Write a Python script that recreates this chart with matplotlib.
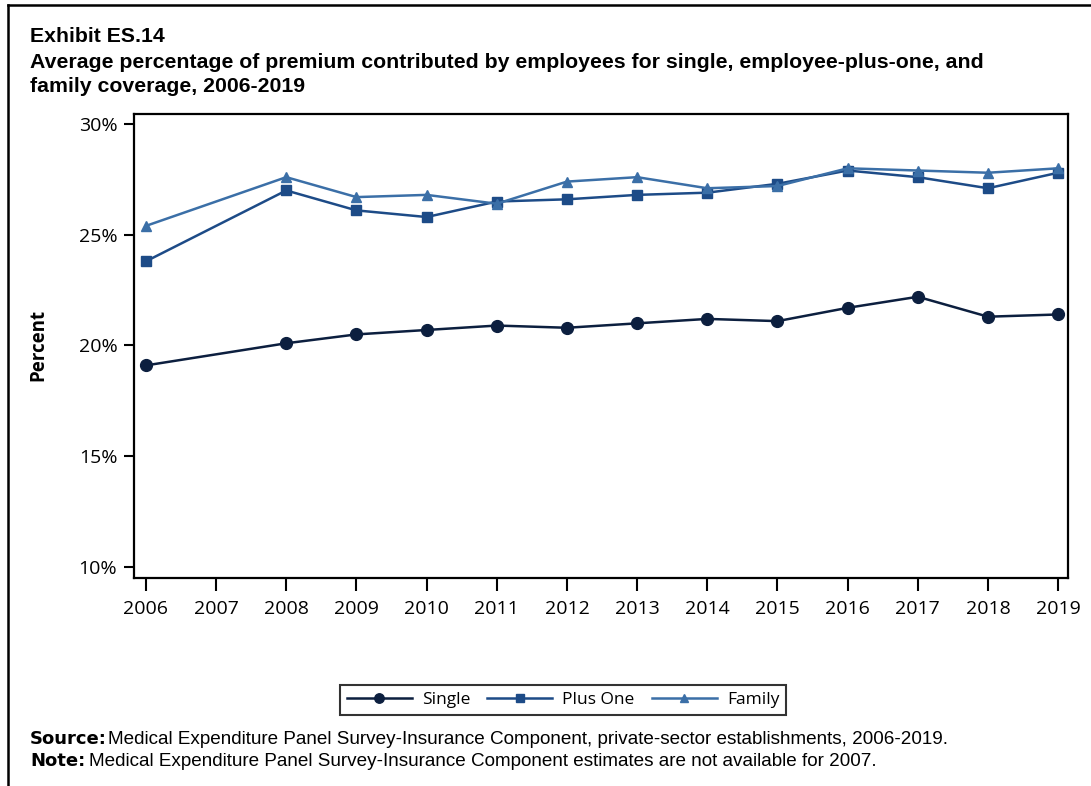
import matplotlib.pyplot as plt
from matplotlib.lines import Line2D

# Data read from the exhibit (percent)
years = [2006, 2008, 2009, 2010, 2011, 2012, 2013, 2014, 2015, 2016, 2017, 2018, 2019]
single = [19.1, 20.1, 20.5, 20.7, 20.9, 20.8, 21.0, 21.2, 21.1, 21.7, 22.2, 21.3, 21.4]
plus_one = [23.8, 27.0, 26.1, 25.8, 26.5, 26.6, 26.8, 26.9, 27.3, 27.9, 27.6, 27.1, 27.8]
family = [25.4, 27.6, 26.7, 26.8, 26.4, 27.4, 27.6, 27.1, 27.2, 28.0, 27.9, 27.8, 28.0]
tick_years = list(range(2006, 2020))
y_ticks = [10, 15, 20, 25, 30]

c_single = "#0c1f3f"
c_plus = "#1d4b87"
c_family = "#3b6fa7"

tick_font = "Open Sans"
title_font = "Liberation Sans"

fig = plt.figure(figsize=(10.91, 7.86), dpi=100)
ax = fig.add_axes([0.1228, 0.2646, 0.8561, 0.5903])

ax.plot(years, single, color=c_single, lw=1.8, marker="o", ms=8.5, label="Single")
ax.plot(years, plus_one, color=c_plus, lw=1.8, marker="s", ms=7, label="Plus One")
ax.plot(years, family, color=c_family, lw=1.8, marker="^", ms=7.5, label="Family")

ax.set_xlim(2005.83, 2019.14)
ax.set_ylim(9.5, 30.45)
ax.set_xticks(tick_years)
ax.set_xticklabels([str(y) for y in tick_years], fontfamily=tick_font, fontsize=14)
ax.set_yticks(y_ticks)
ax.set_yticklabels([f"{v}%" for v in y_ticks], fontfamily=tick_font, fontsize=14)
ax.tick_params(axis="x", length=9, width=1.5, pad=7)
ax.tick_params(axis="y", length=7, width=1.5, pad=5)
for s in ax.spines.values():
    s.set_linewidth(1.6)

leg = ax.legend(loc="center", bbox_to_anchor=(563 / 1091, 1 - 700 / 786),
                bbox_transform=fig.transFigure, ncol=3, frameon=True,
                fancybox=False, edgecolor="black", handlelength=3.75,
                columnspacing=1.0, handletextpad=0.57, borderpad=0.4,
                borderaxespad=0, markerscale=0.8,
                prop={"family": tick_font, "size": 12.5})
leg.get_frame().set_linewidth(1.5)

fig.text(38 / 1091, 1 - 345 / 786, "Percent", rotation=90, ha="center", va="center",
         fontfamily=tick_font, fontweight="bold", fontsize=13.5)

fig.text(30 / 1091, 1 - 37 / 786, "Exhibit ES.14", ha="left", va="center",
         fontfamily=title_font, fontweight="bold", fontsize=15.3)
fig.text(30 / 1091, 1 - 62 / 786,
         "Average percentage of premium contributed by employees for single, employee-plus-one, and",
         ha="left", va="center", fontfamily=title_font, fontweight="bold", fontsize=15.3)
fig.text(30 / 1091, 1 - 87 / 786, "family coverage, 2006-2019", ha="left", va="center",
         fontfamily=title_font, fontweight="bold", fontsize=15.3)

fig.text(30 / 1091, 1 - 744 / 786, "Source:", ha="left", va="baseline",
         fontfamily="DejaVu Sans", fontweight="bold", fontsize=13)
fig.text(108 / 1091, 1 - 744 / 786,
         "Medical Expenditure Panel Survey-Insurance Component, private-sector establishments, 2006-2019.",
         ha="left", va="baseline", fontfamily=title_font, fontsize=13.6)
fig.text(30 / 1091, 1 - 766 / 786, "Note:", ha="left", va="baseline",
         fontfamily="DejaVu Sans", fontweight="bold", fontsize=13)
fig.text(89 / 1091, 1 - 766 / 786,
         "Medical Expenditure Panel Survey-Insurance Component estimates are not available for 2007.",
         ha="left", va="baseline", fontfamily=title_font, fontsize=13.6)

# outer frame (left and top edges visible)
fig.add_artist(Line2D([8 / 1091, 8 / 1091], [0, 1 - 5 / 786], transform=fig.transFigure,
                      color="black", lw=1.8))
fig.add_artist(Line2D([8 / 1091, 1], [1 - 5 / 786, 1 - 5 / 786], transform=fig.transFigure,
                      color="black", lw=1.8))

fig.savefig("out.png", dpi=100)
